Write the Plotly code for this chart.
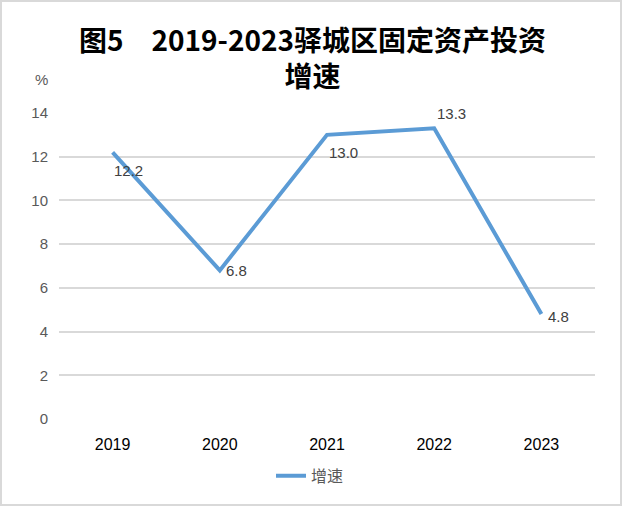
import plotly.graph_objects as go

years = ["2019", "2020", "2021", "2022", "2023"]
growth = [12.2, 6.8, 13.0, 13.3, 4.8]
labels = ["12.2", "6.8", "13.0", "13.3", "4.8"]
label_dx = [16, 17, 16, 17, 17]
label_dy = [-18, 0, -18, 15, -2]
y_ticks = [0, 2, 4, 6, 8, 10, 12, 14]

W, H = 623, 507
ml, mr, mt, mb = 59, 28, 113, 88
pw, ph = W - ml - mr, H - mt - mb

fig = go.Figure()
fig.add_trace(go.Scatter(
    x=years, y=growth, mode="lines", name="增速",
    line=dict(color="#5b9bd5", width=4),
    cliponaxis=False,
))

annotations = [
    dict(x=i, y=y, text=t, xref="x", yref="y", showarrow=False,
         xshift=dx, yshift=dy, xanchor="center", yanchor="middle",
         font=dict(family="Liberation Sans, Arial", size=15, color="#404040"))
    for i, (y, t, dx, dy) in enumerate(zip(growth, labels, label_dx, label_dy))
]
annotations.append(dict(
    text="%", xref="paper", yref="paper", x=(41 - ml) / pw, y=(419 - 80) / ph,
    xanchor="center", yanchor="middle",
    showarrow=False, font=dict(family="Liberation Sans, Arial", size=15, color="#595959"),
))
annotations.append(dict(
    text="<b>图5　2019-2023驿城区固定资产投资<br>增速</b>", xref="paper", yref="paper",
    x=(312 - ml) / pw, y=(419 - 56.5) / ph, xanchor="center", yanchor="middle",
    showarrow=False, align="center",
    font=dict(family="Noto Sans CJK SC", size=28, color="black"),
))

fig.update_layout(
    width=W, height=H,
    margin=dict(l=ml, r=mr, t=mt, b=mb),
    paper_bgcolor="white", plot_bgcolor="white",
    xaxis=dict(
        type="category", range=[-0.5, 4.5], showgrid=False, zeroline=False,
        showline=False, ticks="", ticklabelstandoff=14,
        tickfont=dict(family="Liberation Sans, Arial", size=16, color="black"),
    ),
    yaxis=dict(
        range=[0, 14], tickvals=y_ticks, showgrid=True, gridcolor="#d9d9d9",
        gridwidth=1.5, zeroline=False, showline=False, ticks="",
        ticklabelstandoff=10,
        tickfont=dict(family="Liberation Sans, Arial", size=15, color="#595959"),
    ),
    showlegend=True,
    legend=dict(
        orientation="h", x=(310 - ml) / pw, xanchor="center", y=-0.13, yanchor="top",
        font=dict(family="Noto Sans CJK SC", size=16, color="#595959"),
    ),
    annotations=annotations,
    shapes=[dict(
        type="rect", xref="paper", yref="paper",
        x0=(1 - ml) / pw, x1=(621 - ml) / pw,
        y0=(419 - 505) / ph, y1=(419 - 1) / ph,
        line=dict(color="#d9d9d9", width=2), fillcolor="rgba(0,0,0,0)",
    )],
)

fig.write_html("out.html")
